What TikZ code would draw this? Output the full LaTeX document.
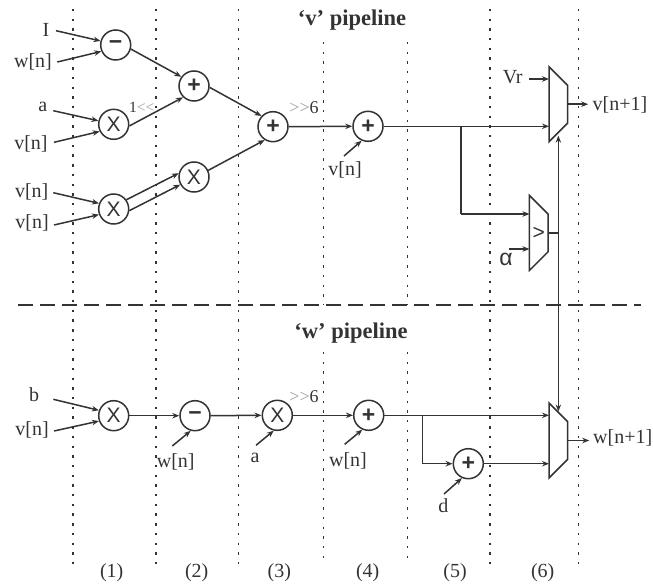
\documentclass[tikz,border=0pt]{standalone}
\usepackage{fontspec}
\setmainfont{Liberation Serif}
\setsansfont{Liberation Sans}
\usetikzlibrary{arrows.meta}
\definecolor{ink}{gray}{0.2}
\definecolor{shift}{gray}{0.62}
\newcommand{\trapez}[1]{\draw[wire] (#1.north west) -- ([yshift=-18.7pt]#1.north east) -- ([yshift=18.7pt]#1.south east) -- (#1.south west) -- cycle;}
\tikzset{
  lab/.style={inner sep=0pt,text=ink,font=\fontsize{20}{22}\selectfont},
  tinylab/.style={inner sep=0pt,text=ink,font=\fontsize{18}{20}\selectfont},
  head/.style={inner sep=0pt,text=ink,font=\fontsize{22.5}{25}\selectfont\bfseries},
  opx/.style={circle,draw=ink,line width=1.5pt,minimum size=30pt,inner sep=0pt,text=ink,font=\fontsize{21}{22}\selectfont\sffamily},
  opb/.style={opx,font=\fontsize{23}{23}\selectfont\sffamily\bfseries},
  mux/.style={rectangle,inner sep=0pt,outer sep=0pt,minimum width=18.7pt,minimum height=75pt,text=ink,font=\fontsize{21}{22}\selectfont\sffamily},
  arr/.style={draw=ink,line width=1.5pt,-{Stealth[length=7pt,width=5.5pt]}},
  wire/.style={draw=ink,line width=1.5pt},
  stage/.style={draw=ink,line width=1.5pt,dash pattern=on 2.4pt off 7.3pt},
  split/.style={draw=ink,line width=1.5pt,dash pattern=on 15pt off 7pt}
}
\begin{document}
\begin{tikzpicture}[x=1pt,y=-1pt]
\useasboundingbox (0,0) rectangle (653,588);
% stage separators
\foreach \x in {73,156,238.7,490,578.7} \draw[stage] (\x,9) -- (\x,564);
\foreach \x in {323.3,407.3} {\draw[stage] (\x,42) -- (\x,305); \draw[stage] (\x,352) -- (\x,564);}
\draw[split] (18,305) -- (641,305);
% titles
\node[head] (tv) at (352,20) {‘v’ pipeline};
\node[head] (tw) at (351,333) {‘w’ pipeline};
% v pipeline operators
\node[opb] (m1) at (115.7,45) {−};
\node[opb] (p2) at (194,86) {+};
\node[opx] (x1) at (113.7,124.3) {X};
\node[opx] (x2) at (113.7,209) {X};
\node[opx] (x3) at (194,177) {X};
\node[opb] (p3) at (273,126.7) {+};
\node[opb] (p4) at (368,126.3) {+};
\node[mux] (muxv) at (558.35,104.2) {};
\trapez{muxv}
\node[mux] (cmp) at (538.8,232.9) {>};
\trapez{cmp}
% w pipeline operators
\node[opx] (x4) at (113.7,415.7) {X};
\node[opb] (m2) at (195,415.7) {−};
\node[opx] (x5) at (277.3,415.3) {X};
\node[opb] (p5) at (368.7,415.3) {+};
\node[opb] (p6) at (468.3,463.7) {+};
\node[mux] (muxw) at (558.35,440.5) {};
\trapez{muxw}
% labels
\node[lab] (lI) at (46,30) {I};
\node[lab] (lw1) at (33,62) {w[n]};
\node[lab] (la1) at (42.7,107) {a};
\node[lab] (lv1) at (31,144) {v[n]};
\node[lab] (lv2) at (31.7,192) {v[n]};
\node[lab] (lv3) at (32,223) {v[n]};
\node[lab] (lv4) at (345,170) {v[n]};
\node[lab] (lVr) at (512.7,77) {Vr};
\node[lab,font=\fontsize{23}{24}\selectfont\sffamily] (lal) at (506,259) {α};
\node[lab] (lvo) at (620,105) {v[n+1]};
\node[tinylab,font=\fontsize{15.5}{18}\selectfont] (s1) at (141.7,107) {1\textcolor{shift}{<{}<}};
\node[tinylab] (s2) at (304,108) {\textcolor{shift}{>{}>}6};
\node[tinylab] (s3) at (304,396.7) {\textcolor{shift}{>{}>}6};
\node[lab] (lb) at (34,395) {b};
\node[lab] (lv5) at (32,430) {v[n]};
\node[lab] (lw2) at (175.7,462) {w[n]};
\node[lab] (la2) at (255,458) {a};
\node[lab] (lw3) at (348,460.7) {w[n]};
\node[lab] (ld) at (443.3,506) {d};
\node[lab] (lwo) at (622.7,438) {w[n+1]};
\node[lab] (n1) at (111.7,573) {(1)};
\node[lab] (n2) at (196.7,573) {(2)};
\node[lab] (n3) at (279.3,573) {(3)};
\node[lab] (n4) at (367.7,573) {(4)};
\node[lab] (n5) at (455,573) {(5)};
\node[lab] (n6) at (542.7,573) {(6)};
% free ends of input arrows
\coordinate (tI) at (56,30.7);
\coordinate (tw1) at (57.3,62);
\coordinate (ta1) at (53.3,110.7);
\coordinate (tv1) at (54,142.3);
\coordinate (tv2) at (53.3,192.7);
\coordinate (tv3) at (54,225);
\coordinate (tv4) at (344,156);
\coordinate (tVr) at (529.3,79);
\coordinate (tal) at (509,249);
\coordinate (tb) at (53.3,399.3);
\coordinate (tv5) at (54,431);
\coordinate (tw2) at (172.3,446);
\coordinate (ta2) at (256,445.3);
\coordinate (tw3) at (344.7,444.3);
\coordinate (td) at (444,494);
\coordinate (br1) at (461,126.3);
\coordinate (br2) at (461,214);
\coordinate (br3) at (422.7,415.3);
\coordinate (br4) at (422.7,463.7);
\coordinate (sel1) at ([yshift=6pt]muxv.south);
\coordinate (sel2) at ([yshift=-8.5pt]muxw.north);
% v pipeline connectors
\draw[arr] (tI) -- (m1.165);
\draw[arr] (tw1) -- (m1.204);
\draw[arr] (ta1) -- (x1.167);
\draw[arr] (tv1) -- (x1.207);
\draw[arr] (tv2) -- (x2.159);
\draw[arr] (tv3) -- (x2.201);
\draw[arr] (m1.-15) -- (p2.144);
\draw[arr] (x1.-6) -- (p2.226);
\draw[arr] (x2.36) -- (x3.166);
\draw[arr] (x2.-6) -- (x3.209);
\draw[arr] (p2.-5) -- (p3.137);
\draw[arr] (x3.25) -- (p3.238);
\draw[arr] (p3.east) -- (p4.west);
\draw[arr] (tv4) -- (p4.246);
\draw[arr] (p4.east) -- (p4.east -| muxv.west);
\draw[wire] (br1) -- (br2);
\draw[arr] (br2) -- (br2 -| cmp.west);
\draw[arr] (tVr) -- (tVr -| muxv.west);
\draw[arr] (tal) -- (tal -| cmp.west);
\draw[arr] (muxv.east) -- ++(20.5,0);
\draw[wire] (cmp.east) -- (cmp.east -| muxv.south);
\draw[draw=ink,line width=1.5pt,{Stealth[length=7pt,width=5.5pt]}-{Stealth[length=7pt,width=5.5pt]}] (sel1) -- (sel2);
% w pipeline connectors
\draw[arr] (tb) -- (x4.160);
\draw[arr] (tv5) -- (x4.200);
\draw[arr] (x4.east) -- (m2.west);
\draw[arr] (m2.east) -- (x5.west);
\draw[arr] (x5.east) -- (p5.west);
\draw[arr] (tw2) -- (m2.254);
\draw[arr] (ta2) -- (x5.257);
\draw[arr] (tw3) -- (p5.246);
\draw[arr] (p5.east) -- (p5.east -| muxw.west);
\draw[wire] (br3) -- (br4);
\draw[arr] (br4) -- (p6.west);
\draw[arr] (p6.east) -- (p6.east -| muxw.west);
\draw[arr] (td) -- (p6.246);
\draw[arr] (muxw.east) -- ++(21.5,0);
\end{tikzpicture}
\end{document}
